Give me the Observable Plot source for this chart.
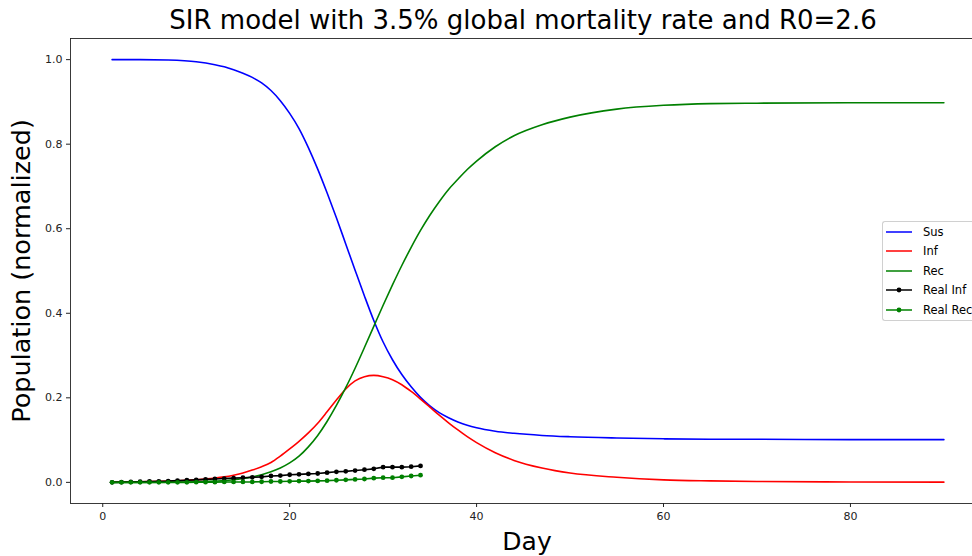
<!DOCTYPE html>
<html><head><meta charset="utf-8">
<script src="https://cdn.jsdelivr.net/npm/d3@7"></script>
<script src="https://cdn.jsdelivr.net/npm/@observablehq/plot@0.6"></script>
<style>
html,body{margin:0;background:#fff;font-family:"DejaVu Sans",sans-serif;overflow:hidden;}
#wrap{position:relative;width:972px;height:556px;overflow:hidden;background:#fff;}
#chart{position:absolute;left:0;top:0;width:972px;height:556px;}
#chart svg{max-width:none;display:block;overflow:hidden;}
.lbl{position:absolute;white-space:nowrap;color:#000;line-height:1;}
#title{left:523px;top:20px;font-size:26px;transform:translate(-50%,-50%);}
#ylab{left:22px;top:271px;font-size:25.5px;transform:translate(-50%,-50%) rotate(-90deg);}
#xlab{left:527px;top:541px;font-size:25px;transform:translate(-50%,-50%);}
#legend{position:absolute;left:882px;top:221px;width:90px;height:98px;border:1px solid #d0d0d0;border-right:none;border-radius:3px 0 0 3px;background:rgba(255,255,255,0.85);font-size:11.5px;overflow:hidden;}
.row{position:absolute;left:3px;height:14px;display:flex;align-items:center;white-space:nowrap;}
.row svg{width:28px;height:14px;margin-right:9px;flex:none;}
</style></head>
<body>
<div id="wrap">
  <div id="chart"></div>
  <div id="title" class="lbl">SIR model with 3.5% global mortality rate and R0=2.6</div>
  <div id="ylab" class="lbl">Population (normalized)</div>
  <div id="xlab" class="lbl">Day</div>
  <div id="legend"></div>
</div>
<script>
// Model curves
const days = [1,4,7,10,12,13,14,15,16,17,18,19,20,21,22,23,24,25,26,27,28,29,30,31,32,33,34,35,36,37,38,39,40,42,44,47,50,55,60,65,70,80,90];
const sus  = [1.000,1.000,0.999,0.995,0.988,0.983,0.976,0.968,0.958,0.945,0.927,0.903,0.873,0.837,0.792,0.741,0.685,0.626,0.564,0.502,0.441,0.383,0.332,0.290,0.255,0.226,0.201,0.181,0.165,0.153,0.143,0.135,0.129,0.121,0.116,0.111,0.108,0.105,0.103,0.102,0.102,0.101,0.101];
const inf  = [0.001,0.0015,0.003,0.006,0.010,0.013,0.017,0.022,0.029,0.037,0.047,0.062,0.079,0.097,0.117,0.140,0.167,0.195,0.221,0.240,0.250,0.253,0.250,0.243,0.231,0.215,0.197,0.178,0.159,0.141,0.124,0.108,0.094,0.070,0.052,0.034,0.022,0.012,0.006,0.0035,0.002,0.001,0.0005];
const rec  = [0.000,0.000,0.0005,0.0015,0.003,0.004,0.006,0.009,0.013,0.018,0.025,0.034,0.046,0.062,0.084,0.111,0.144,0.182,0.224,0.270,0.319,0.369,0.419,0.467,0.513,0.556,0.596,0.632,0.664,0.693,0.717,0.740,0.760,0.794,0.820,0.846,0.864,0.883,0.892,0.896,0.897,0.898,0.898];
// Real data
const realDays = [1,2,3,4,5,6,7,8,9,10,11,12,13,14,15,16,17,18,19,20,21,22,23,24,25,26,27,28,29,30,31,32,33,34];
const realInf = [0,0.0005,0.001,0.0015,0.002,0.0025,0.003,0.004,0.005,0.006,0.007,0.008,0.009,0.010,0.011,0.012,0.013,0.015,0.016,0.018,0.019,0.020,0.021,0.023,0.025,0.026,0.028,0.030,0.032,0.036,0.036,0.036,0.037,0.039];
const realRec = [0,0,0,0,0,0,0,0,0,0.0005,0.0005,0.0005,0.001,0.001,0.001,0.001,0.0015,0.002,0.002,0.0025,0.003,0.003,0.0035,0.004,0.005,0.006,0.007,0.008,0.010,0.011,0.011,0.013,0.015,0.017];
const xTicks = [0,20,40,60,80];
const yTicks = [0,0.2,0.4,0.6,0.8,1.0];
const xDomain = [-3.45, 93.06];
const yDomain = [-0.05, 1.05];

const model = days.map((d,i)=>({day:d, sus:sus[i], inf:inf[i], rec:rec[i]}));
const real = realDays.map((d,i)=>({day:d, inf:realInf[i], rec:realRec[i]}));

const C = {sus:"#0000ff", inf:"#ff0000", rec:"#008000", rinf:"#000000", rrec:"#008000"};
const lw = 1.6;
const spine = {stroke: "#222", strokeWidth: 0.9};

const chart = Plot.plot({
  width: 972, height: 556,
  marginTop: 38, marginBottom: 53, marginLeft: 70, marginRight: 0,
  x: {domain: xDomain},
  y: {domain: yDomain},
  style: {fontFamily: "DejaVu Sans", fontSize: "11px", color: "#222", background: "white", maxWidth: "none"},
  marks: [
    Plot.axisX({ticks: xTicks, tickSize: 4, tickPadding: 5, label: null, fontSize: 11}),
    Plot.axisY({ticks: yTicks, tickFormat: d3.format(".1f"), tickSize: 4, tickPadding: 4, label: null, fontSize: 11}),
    Plot.line(model, {x: "day", y: "sus", stroke: C.sus, strokeWidth: lw, curve: "monotone-x"}),
    Plot.line(model, {x: "day", y: "inf", stroke: C.inf, strokeWidth: lw, curve: "monotone-x"}),
    Plot.line(model, {x: "day", y: "rec", stroke: C.rec, strokeWidth: lw, curve: "monotone-x"}),
    Plot.line(real, {x: "day", y: "inf", stroke: C.rinf, strokeWidth: lw}),
    Plot.dot(real, {x: "day", y: "inf", fill: C.rinf, r: 2.4}),
    Plot.line(real, {x: "day", y: "rec", stroke: C.rrec, strokeWidth: lw}),
    Plot.dot(real, {x: "day", y: "rec", fill: C.rrec, r: 2.4}),
    Plot.ruleY(yDomain, spine),
    Plot.ruleX([xDomain[0]], spine)
  ]
});
document.getElementById("chart").appendChild(chart);

const entries = [["Sus",C.sus,false],["Inf",C.inf,false],["Rec",C.rec,false],["Real Inf",C.rinf,true],["Real Rec",C.rrec,true]];
const leg = document.getElementById("legend");
entries.forEach(([name,col,dot],i)=>{
  const row = document.createElement("div");
  row.className = "row";
  row.style.top = (2.5 + i*19.6) + "px";
  row.innerHTML = `<svg viewBox="0 0 28 14"><line x1="0" y1="7" x2="26" y2="7" stroke="${col}" stroke-width="${lw}"/>${dot?`<circle cx="13" cy="7" r="2.4" fill="${col}"/>`:""}</svg><span>${name}</span>`;
  leg.appendChild(row);
});
</script>
</body></html>
